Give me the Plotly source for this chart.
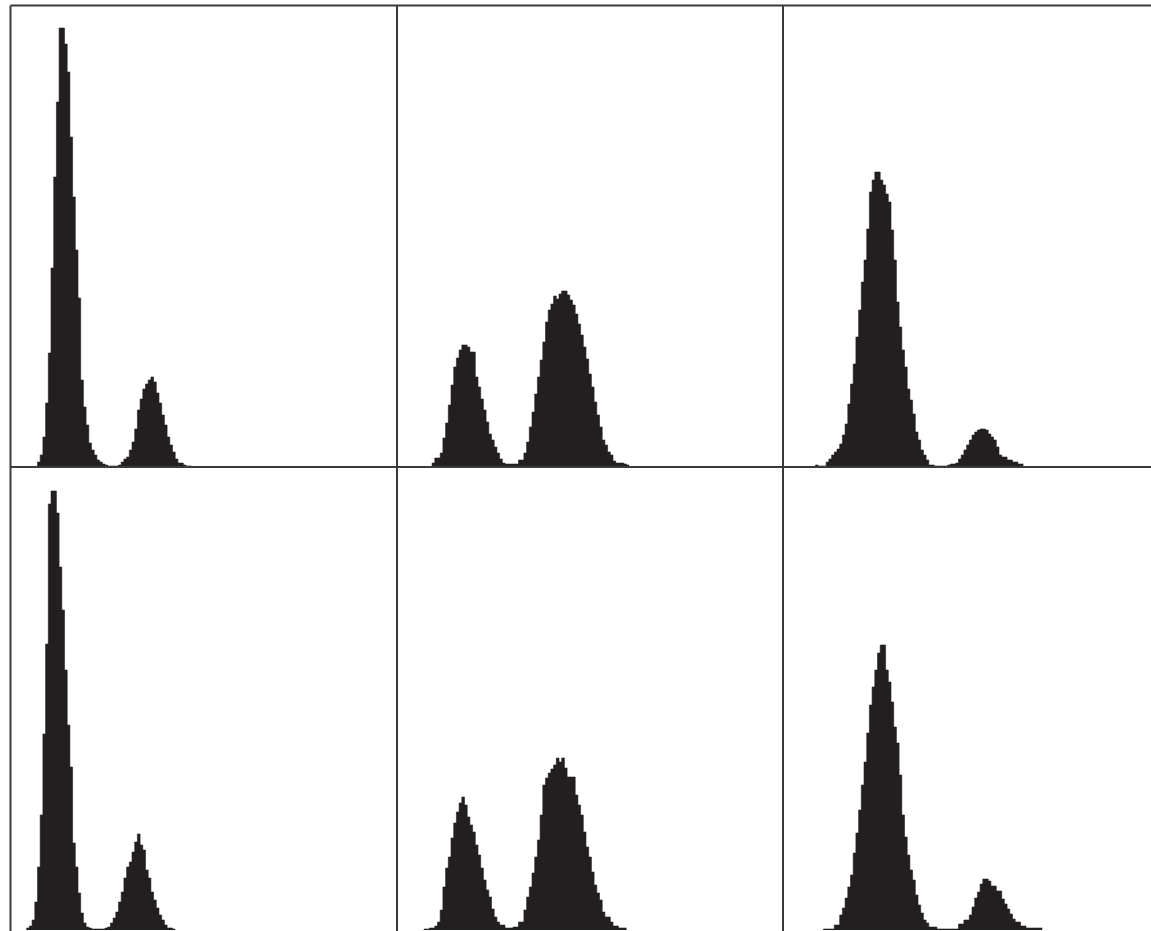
import numpy as np
import plotly.graph_objects as go

# Page size (px) and panel geometry
W, H = 1151, 931
CH_PX = 2.7            # pixels per channel
FILL = "#231f20"
FRAME = "#3a3a3a"

COL_EDGES = [10.5, 397, 783, W]   # px from left
ROW_EDGES = [5.5, 467, 930]       # px from top

# DNA content histograms: counts per channel, starting at a given channel
hist_a_start = 10
hist_a = [5, 12, 30, 64, 114, 199, 290, 365, 439, 439, 423, 395, 330, 270, 217, 169, 87, 60, 42, 24,
          17, 12, 7, 5, 3, 2, 1, 1, 1, 1,
          2, 5, 8, 10, 17, 25, 38, 57, 68, 78, 83, 87, 90, 85, 74, 64, 52, 42, 30, 22, 15, 8, 4, 4, 2, 1, 1]

hist_b_start = 13
hist_b = [4, 9, 9, 14, 29, 44, 62, 82, 100, 109, 117, 122, 122, 120, 115, 115, 90, 80, 68, 57,
          45, 33, 27, 20, 14, 8, 4, 3, 3, 3, 3, 3,
          7, 7, 14, 25, 40, 55, 73, 90, 107, 125, 145, 157, 163, 171, 168, 173, 176, 176, 172, 167,
          162, 153, 143, 132, 120, 108, 93, 80, 65, 52, 40, 27, 22, 15, 12, 6, 4, 4, 4, 3, 2]

hist_c_start = 12
hist_c = [2, 1, 1, 1, 5, 8, 12, 15, 18, 23, 32, 43, 63, 83, 103, 130, 157, 185, 207, 238, 275, 287,
          295, 295, 287, 282, 273, 265, 237, 207, 165, 140, 117, 100, 78, 67, 53, 35, 27, 17, 12, 7,
          2, 2, 1, 1, 1, 1, 1, 2, 3, 3,
          4, 8, 12, 17, 22, 27, 32, 35, 37, 38, 38, 37, 33, 30, 27, 20, 12, 10, 10, 7, 7, 5, 5, 3, 3]

hist_d_start = 6
hist_d = [2, 4, 10, 28, 63, 115, 196, 286, 426, 439, 439, 417, 363, 320, 260, 205, 163, 87, 63, 37,
          17, 7, 3, 2, 1, 1, 1, 1, 1, 2,
          3, 7, 12, 18, 28, 38, 52, 63, 68, 78, 88, 96, 85, 80, 60, 52, 38, 30, 22, 15, 10, 5, 2, 2, 1]

hist_e_start = 10
hist_e = [1, 1, 2, 2, 4, 8, 20, 43, 62, 73, 92, 107, 118, 127, 133, 125, 113, 105, 98, 85, 75, 62,
          50, 40, 33, 21, 13, 8, 5, 5, 2, 2, 2, 3, 3,
          8, 8, 20, 33, 43, 57, 73, 90, 115, 145, 152, 157, 161, 165, 172, 168, 172, 162, 153, 153,
          153, 135, 125, 115, 98, 83, 73, 58, 45, 37, 30, 18, 13, 13, 8, 4, 4, 2, 2, 2]

hist_f_start = 15
hist_f = [1, 1, 1, 1, 5, 5, 15, 22, 32, 43, 55, 77, 97, 120, 145, 168, 197, 225, 243, 260, 277,
          285, 285, 260, 248, 228, 203, 187, 155, 115, 93, 75, 60, 50, 35, 25, 17, 10, 7, 3, 3, 3,
          1, 1, 1, 1, 1, 1, 1, 1, 6, 6, 10, 10, 15, 23, 32, 38, 46, 51, 51, 49, 44, 44, 39, 39,
          31, 26, 21, 16, 11, 8, 8, 4, 4, 2, 2, 2, 2, 2, 2]

panels = [
    (0, 0, hist_a_start, hist_a),
    (0, 1, hist_b_start, hist_b),
    (0, 2, hist_c_start, hist_c),
    (1, 0, hist_d_start, hist_d),
    (1, 1, hist_e_start, hist_e),
    (1, 2, hist_f_start, hist_f),
]

fig = go.Figure()
layout_axes = {}

for i, (row, col, start, counts) in enumerate(panels, start=1):
    counts = list(counts)
    edges = start + np.arange(len(counts) + 1)
    xs = [edges[0]] + list(edges)
    ys = [0] + counts + [counts[-1]]
    xa = "x" if i == 1 else f"x{i}"
    ya = "y" if i == 1 else f"y{i}"
    fig.add_trace(go.Scatter(
        x=xs, y=ys, mode="lines", xaxis=xa, yaxis=ya,
        line=dict(width=0.6, color=FILL, shape="hv"),
        fill="tozeroy", fillcolor=FILL, hoverinfo="skip", showlegend=False,
    ))

    x0px, x1px = COL_EDGES[col], COL_EDGES[col + 1]
    y0px, y1px = ROW_EDGES[row], ROW_EDGES[row + 1]
    xdom = [x0px / W, x1px / W]
    ydom = [1 - y1px / H, 1 - y0px / H]
    xkey = "xaxis" if i == 1 else f"xaxis{i}"
    ykey = "yaxis" if i == 1 else f"yaxis{i}"
    layout_axes[xkey] = dict(domain=xdom, range=[0, (x1px - x0px) / CH_PX],
                             showgrid=False, zeroline=False, showticklabels=False,
                             ticks="", showline=False, anchor=ya, fixedrange=True)
    layout_axes[ykey] = dict(domain=ydom, range=[0, y1px - y0px],
                             showgrid=False, zeroline=False, showticklabels=False,
                             ticks="", showline=False, anchor=xa, fixedrange=True)


def px_line(x0, y0, x1, y1):
    return dict(type="line", xref="paper", yref="paper",
                x0=x0 / W, x1=x1 / W, y0=1 - y0 / H, y1=1 - y1 / H,
                line=dict(color=FRAME, width=2), layer="above")


shapes = [
    px_line(COL_EDGES[0], ROW_EDGES[0], W, ROW_EDGES[0]),      # top border
    px_line(COL_EDGES[0], ROW_EDGES[0], COL_EDGES[0], H),      # left border
    px_line(COL_EDGES[1], ROW_EDGES[0], COL_EDGES[1], H),      # column divider
    px_line(COL_EDGES[2], ROW_EDGES[0], COL_EDGES[2], H),      # column divider
    px_line(COL_EDGES[0], ROW_EDGES[1], W, ROW_EDGES[1]),      # row divider / baseline
]

fig.update_layout(
    width=W, height=H,
    margin=dict(l=0, r=0, t=0, b=0),
    paper_bgcolor="white", plot_bgcolor="white",
    shapes=shapes,
    **layout_axes,
)

fig.write_html("out.html", config={"displayModeBar": False})
